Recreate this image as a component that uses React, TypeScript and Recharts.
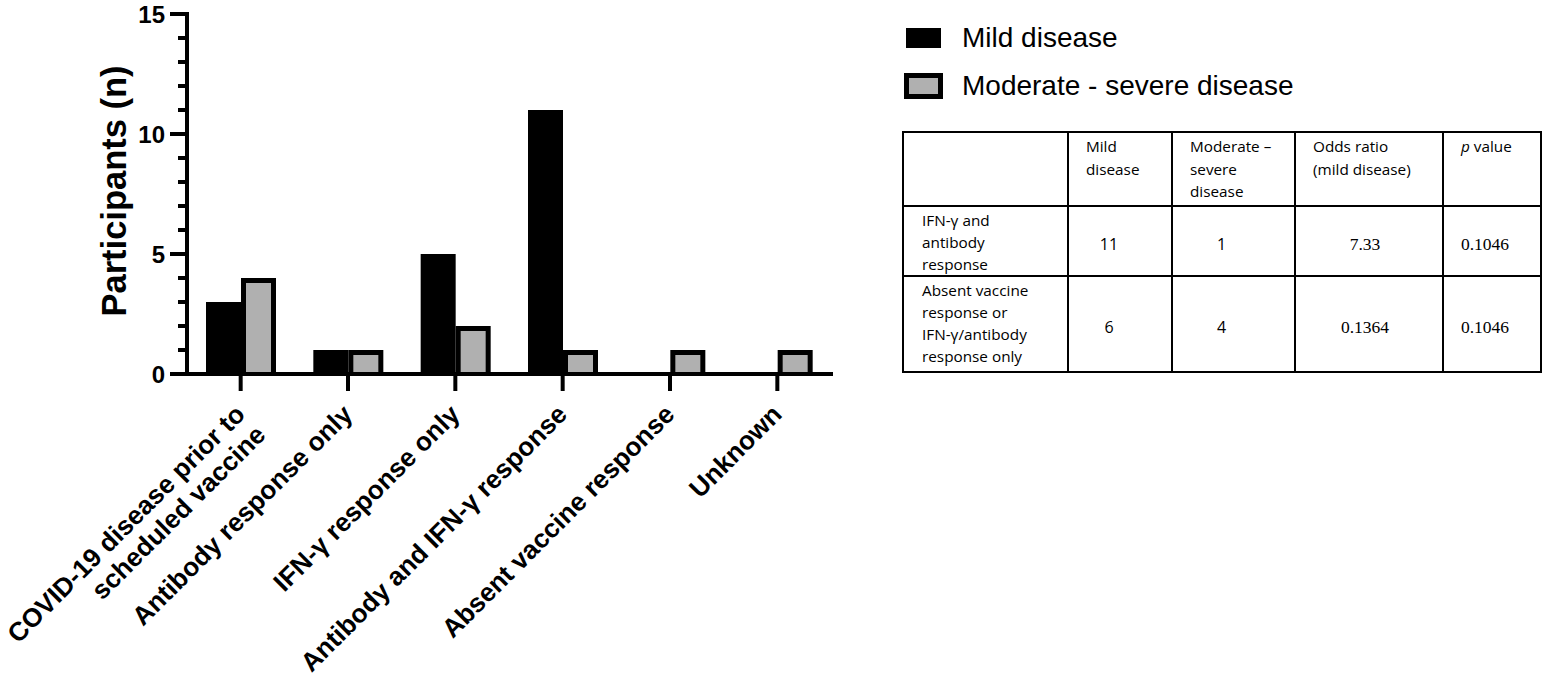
import React from 'react'
import { BarChart, Bar, XAxis, YAxis, Legend, Label } from 'recharts'

// bar chart values
const categories = [
  'COVID-19 disease prior to\nscheduled vaccine',
  'Antibody response only',
  'IFN-γ response only',
  'Antibody and IFN-γ response',
  'Absent vaccine response',
  'Unknown',
]
const mildDisease = [3, 1, 5, 11, 0, 0]
const moderateDisease = [4, 1, 2, 1, 1, 1]
const yTicks = [0, 1, 2, 3, 4, 5, 6, 7, 8, 9, 10, 11, 12, 13, 14, 15]

// table next to the chart
const tableHeads = [[], ['Mild', 'disease'], ['Moderate –', 'severe', 'disease'], ['Odds ratio', '(mild disease)'], ['p value']]
const rowLabels = [
  ['IFN-γ and', 'antibody', 'response'],
  ['Absent vaccine', 'response or', 'IFN-γ/antibody', 'response only'],
]
const tableMild = ['11', '6']
const tableModerate = ['1', '4']
const oddsRatio = ['7.33', '0.1364']
const pValues = ['0.1046', '0.1046']

const data = categories.map((name, i) => ({
  name,
  mild: mildDisease[i],
  moderate: moderateDisease[i],
}))

const SANS = '"Liberation Sans", Arial, Helvetica, sans-serif'
const CALIBRI = '"Open Sans", "Noto Sans", sans-serif'
const SERIF = '"Liberation Serif", "Times New Roman", serif'
const GREY = '#b0b0b0'

function MildShape(props: any) {
  const { x, y, width, height } = props
  if (!height || height <= 0) return <g />
  return <rect x={x} y={y} width={width} height={height} fill="#000" />
}

function ModerateShape(props: any) {
  const { x, y, width, height } = props
  if (!height || height <= 0) return <g />
  const b = 5
  return (
    <g>
      <rect x={x} y={y} width={width} height={height} fill="#000" />
      <rect x={x + b} y={y + b} width={width - 2 * b} height={Math.max(0, height - b)} fill={GREY} />
    </g>
  )
}

function YTick({ x, y, payload }: any) {
  const major = payload.value % 5 === 0
  return (
    <g>
      <line x1={x - (major ? 17 : 9)} x2={x} y1={y} y2={y} stroke="#000" strokeWidth={4} />
      {major && (
        <text x={x - 22} y={y} dy="0.36em" textAnchor="end" fontFamily={SANS} fontWeight="bold" fontSize={24} fill="#000">
          {payload.value}
        </text>
      )}
    </g>
  )
}

function XTick({ x, y, payload }: any) {
  const lines = String(payload.value).split('\n')
  return (
    <g>
      <line x1={x} x2={x} y1={y} y2={y + 17} stroke="#000" strokeWidth={4} />
      <text
        transform={`translate(${x + 6},${y + 42}) rotate(-45)`}
        textAnchor="end"
        fontFamily={SANS}
        fontWeight="bold"
        fontSize={26.2}
        fill="#000"
      >
        {lines.map((l, i) => (
          <tspan key={i} x={0} dy={i === 0 ? 0 : '1.1em'}>{l}</tspan>
        ))}
      </text>
    </g>
  )
}

function LegendContent({ payload }: any) {
  return (
    <div style={{ fontFamily: SANS, fontSize: 28, lineHeight: 1, color: '#000' }}>
      {(payload || []).map((entry: any, i: number) => (
        <div key={i} style={{ display: 'flex', alignItems: 'center', height: 48, whiteSpace: 'nowrap' }}>
          <svg width={39} height={26}>
            {entry.dataKey === 'moderate' ? (
              <g>
                <rect x={0} y={0} width={39} height={26} fill="#000" />
                <rect x={5} y={5} width={29} height={16} fill={GREY} />
              </g>
            ) : (
              <rect x={2} y={3} width={35} height={20} fill="#000" />
            )}
          </svg>
          <span style={{ marginLeft: 19 }}>{entry.value}</span>
        </div>
      ))}
    </div>
  )
}

const cellBorder = '2px solid #000'
const headCell: React.CSSProperties = {
  border: cellBorder,
  verticalAlign: 'top',
  textAlign: 'left',
  padding: '2px 4px 0 17px',
  fontFamily: CALIBRI,
  fontWeight: 'normal',
  fontSize: 15.3,
  lineHeight: '22.5px',
  whiteSpace: 'nowrap',
}
const labelCell: React.CSSProperties = { ...headCell, padding: '2px 4px 0 18px', lineHeight: '22px' }
const numCell = (padRight: number, serif: boolean): React.CSSProperties => ({
  border: cellBorder,
  verticalAlign: 'middle',
  textAlign: 'center',
  padding: `6px ${padRight}px 0 0`,
  fontFamily: serif ? SERIF : CALIBRI,
  fontSize: serif ? 17.5 : 16,
  whiteSpace: 'nowrap',
})

function ResultsTable() {
  const rowHeights = [70, 96]
  return (
    <table
      style={{
        position: 'absolute',
        left: 902,
        top: 131,
        width: 638,
        borderCollapse: 'collapse',
        tableLayout: 'fixed',
        color: '#000',
      }}
    >
      <colgroup>
        <col style={{ width: 165 }} />
        <col style={{ width: 104 }} />
        <col style={{ width: 123 }} />
        <col style={{ width: 148 }} />
        <col style={{ width: 98 }} />
      </colgroup>
      <tbody>
        <tr style={{ height: 74 }}>
          {tableHeads.map((lines, i) => (
            <td key={i} style={headCell}>
              {lines.map((l, j) => (
                <div key={j}>
                  {l === 'p value' ? (
                    <>
                      <i>p</i> value
                    </>
                  ) : (
                    l
                  )}
                </div>
              ))}
            </td>
          ))}
        </tr>
        {rowLabels.map((lines, r) => (
          <tr key={r} style={{ height: rowHeights[r] }}>
            <td style={labelCell}>
              {lines.map((l, j) => (
                <div key={j}>{l}</div>
              ))}
            </td>
            <td style={numCell(22, false)}>{tableMild[r]}</td>
            <td style={numCell(24, false)}>{tableModerate[r]}</td>
            <td style={numCell(8, true)}>{oddsRatio[r]}</td>
            <td style={numCell(14, true)}>{pValues[r]}</td>
          </tr>
        ))}
      </tbody>
    </table>
  )
}

export default function App() {
  return (
    <div style={{ position: 'absolute', left: 0, top: 0, width: 1544, height: 688, background: '#fff' }}>
      <BarChart
        width={1544}
        height={688}
        data={data}
        margin={{ top: 14, right: 713, bottom: 0, left: 0 }}
        barGap={0}
        barSize={35}
      >
        <Bar dataKey="mild" name="Mild disease" fill="#000" shape={MildShape} isAnimationActive={false} />
        <Bar dataKey="moderate" name="Moderate - severe disease" fill={GREY} shape={ModerateShape} isAnimationActive={false} />
        <XAxis
          dataKey="name"
          type="category"
          height={314}
          interval={0}
          tickSize={0}
          tickMargin={0}
          tickLine={false}
          axisLine={{ stroke: '#000', strokeWidth: 4, strokeLinecap: 'square' }}
          tick={XTick}
        />
        <YAxis
          type="number"
          domain={[0, 15]}
          ticks={yTicks}
          interval={0}
          width={187}
          tickSize={0}
          tickMargin={0}
          tickLine={false}
          axisLine={{ stroke: '#000', strokeWidth: 4, strokeLinecap: 'square' }}
          tick={YTick}
        >
          <Label
            content={({ viewBox }: any) => {
              const cx = viewBox.x + viewBox.width - 73
              const cy = viewBox.y + viewBox.height / 2 - 3
              return (
                <text
                  x={cx}
                  y={cy}
                  transform={`rotate(-90 ${cx} ${cy})`}
                  textAnchor="middle"
                  dy="0.36em"
                  fontFamily={SANS}
                  fontWeight="bold"
                  fontSize={34.5}
                  fill="#000"
                >
                  Participants (n)
                </text>
              )
            }}
          />
        </YAxis>
        <Legend
          layout="vertical"
          align="center"
          verticalAlign="middle"
          wrapperStyle={{ left: 904, top: 14, width: 'auto', height: 'auto' }}
          content={LegendContent}
        />
      </BarChart>
      <ResultsTable />
    </div>
  )
}
